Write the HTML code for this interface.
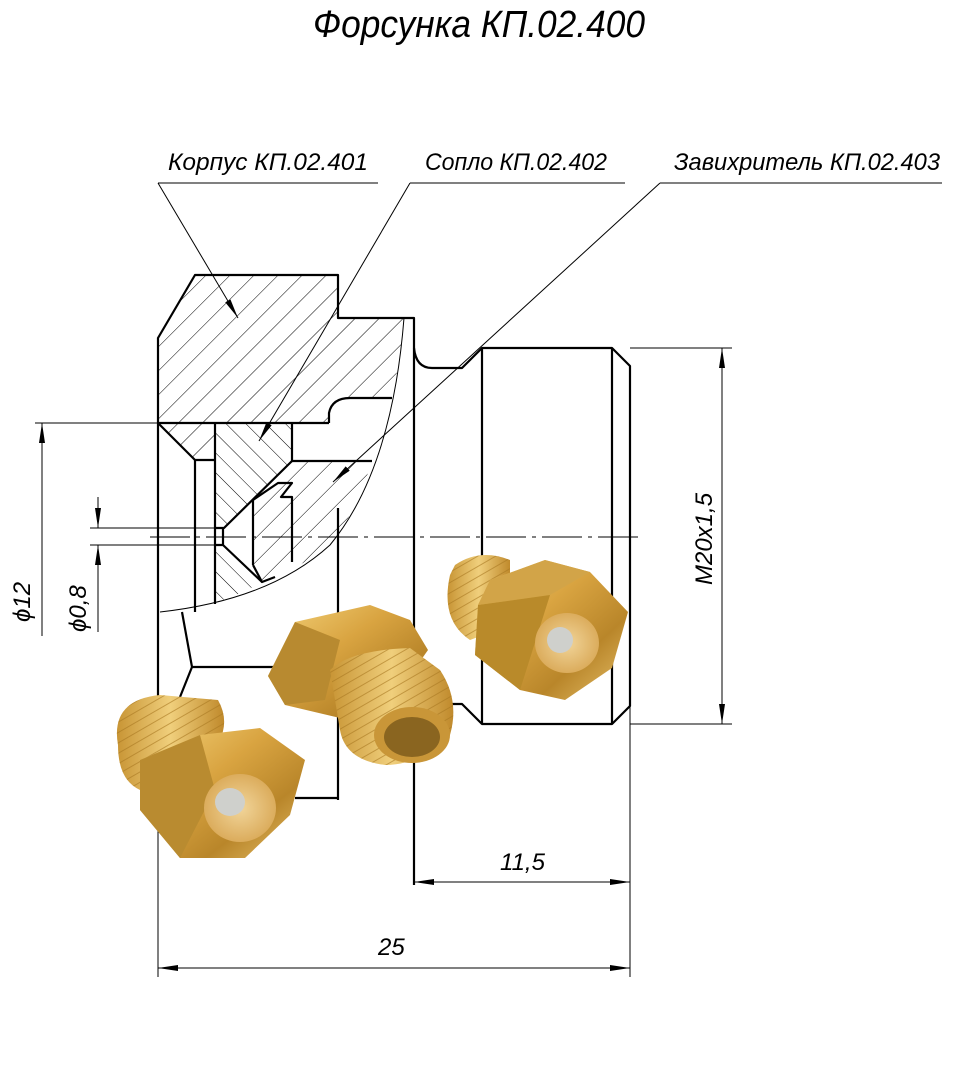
<!DOCTYPE html>
<html><head><meta charset="utf-8"><style>
html,body{margin:0;padding:0;background:#fff;}
svg{display:block;}
text{font-family:"Liberation Sans","DejaVu Sans",sans-serif;font-style:italic;fill:#000;}
</style></head><body>
<svg width="975" height="1065" viewBox="0 0 975 1065" xmlns="http://www.w3.org/2000/svg">
<defs>
<pattern id="h1" patternUnits="userSpaceOnUse" width="17" height="17" patternTransform="rotate(45)">
<line x1="0" y1="0" x2="0" y2="17" stroke="#000" stroke-width="1"/></pattern>
<pattern id="h2" patternUnits="userSpaceOnUse" width="14" height="14" patternTransform="rotate(-45)">
<line x1="0" y1="0" x2="0" y2="14" stroke="#000" stroke-width="1"/></pattern>
<linearGradient id="br" x1="0" y1="0" x2="1" y2="1">
<stop offset="0" stop-color="#f3d27a"/><stop offset="0.4" stop-color="#d9a441"/><stop offset="0.7" stop-color="#b9862a"/><stop offset="1" stop-color="#e7c06a"/></linearGradient>
<linearGradient id="br2" x1="0" y1="0" x2="1" y2="0">
<stop offset="0" stop-color="#c89535"/><stop offset="0.5" stop-color="#f0cf7c"/><stop offset="1" stop-color="#c08a2c"/></linearGradient>
<radialGradient id="face" cx="0.5" cy="0.5" r="0.6">
<stop offset="0" stop-color="#f1d59a"/><stop offset="1" stop-color="#d7a450"/></radialGradient>
<pattern id="thr" patternUnits="userSpaceOnUse" width="9" height="9" patternTransform="rotate(-30)">
<rect width="9" height="9" fill="none"/><line x1="0" y1="0" x2="9" y2="0" stroke="#a87720" stroke-width="2" opacity="0.6"/></pattern>
<marker id="ar" viewBox="0 0 20 6" refX="20" refY="3" markerWidth="20" markerHeight="6" markerUnits="userSpaceOnUse" orient="auto-start-reverse">
<path d="M0,0 L20,3 L0,6 z" fill="#000"/></marker>
</defs>

<text x="313" y="37" font-size="38" textLength="332" lengthAdjust="spacingAndGlyphs">Форсунка КП.02.400</text>

<text x="168" y="170" font-size="24" textLength="200" lengthAdjust="spacingAndGlyphs">Корпус КП.02.401</text>
<line x1="158" y1="183" x2="378" y2="183" stroke="#000"/>
<text x="425" y="170" font-size="24" textLength="182" lengthAdjust="spacingAndGlyphs">Сопло КП.02.402</text>
<line x1="410" y1="183" x2="625" y2="183" stroke="#000"/>
<text x="674" y="170" font-size="24" textLength="266" lengthAdjust="spacingAndGlyphs">Завихритель КП.02.403</text>
<line x1="660" y1="183" x2="942" y2="183" stroke="#000"/>

<path d="M195,275 L338,275 L338,318 L404,318 Q400,360 392,398 L348,398 Q332,400 329,413 L329,423 L215,423 L215,460 L195,460 L158,423 L158,338 Z" fill="url(#h1)"/>
<path d="M292,461 L372,461 Q358,505 338,535 Q310,565 262,582 L253,565 L253,500 L292,461 Z" fill="url(#h1)"/>
<path d="M215,423 L292,423 L292,461 L224,528 L215,528 Z" fill="url(#h2)"/>
<path d="M215,545 L223,545 L262,582 Q240,595 215,602 Z" fill="url(#h2)"/>

<g fill="none" stroke="#000" stroke-width="2.2" stroke-linejoin="round">
<path d="M158,800 L158,338 L195,275 L338,275 L338,318 L414,318 L414,885"/>
<path d="M414,348 Q416,368 432,368 L462,368 L482,348 L612,348 L630,366 L630,706 L612,724 L482,724 L462,704 L432,704 Q416,704 414,724"/>
<line x1="482" y1="348" x2="482" y2="724"/>
<line x1="612" y1="348" x2="612" y2="724"/>
<path d="M158,423 L195,460 L215,460"/>
<line x1="158" y1="423" x2="329" y2="423"/>
<line x1="195" y1="460" x2="195" y2="612"/>
<line x1="215" y1="423" x2="215" y2="604"/>
<path d="M292,423 L292,461 L372,461"/>
<path d="M329,423 L329,413 Q332,398 350,398 L392,398"/>
<path d="M292,461 L224,528 L215,528 M223,528 L223,545 L215,545 M223,545 L262,582"/>
<path d="M253,500 L253,565 M253,500 L278,483 L292,483 L281,497 L292,497 L292,562"/>
<path d="M253,565 L262,582 L275,577"/>
<line x1="338" y1="508" x2="338" y2="800"/>
<path d="M182,612 L192,667 L275,667 M192,667 L180,697"/>
<line x1="295" y1="798" x2="338" y2="798"/>
</g>
<path d="M404,318 Q392,470 330,545 Q270,600 160,612" fill="none" stroke="#000" stroke-width="1"/>

<line x1="150" y1="537" x2="640" y2="537" stroke="#000" stroke-width="1" stroke-dasharray="40,6,4,6"/>

<line x1="158" y1="183" x2="238" y2="318" stroke="#000" stroke-width="1" marker-end="url(#ar)"/>
<line x1="410" y1="183" x2="259" y2="441" stroke="#000" stroke-width="1" marker-end="url(#ar)"/>
<line x1="660" y1="183" x2="333" y2="482" stroke="#000" stroke-width="1" marker-end="url(#ar)"/>

<g stroke="#000" stroke-width="1" fill="none">
<line x1="35" y1="423" x2="158" y2="423"/>
<line x1="42" y1="423" x2="42" y2="636" marker-start="url(#ar)"/>
<line x1="90" y1="528" x2="215" y2="528"/>
<line x1="90" y1="545" x2="215" y2="545"/>
<line x1="98" y1="497" x2="98" y2="528" marker-end="url(#ar)"/>
<line x1="98" y1="632" x2="98" y2="545" marker-end="url(#ar)"/>
<line x1="630" y1="348" x2="732" y2="348"/>
<line x1="630" y1="724" x2="732" y2="724"/>
<line x1="722" y1="348" x2="722" y2="724" marker-start="url(#ar)" marker-end="url(#ar)"/>
<line x1="630" y1="706" x2="630" y2="977"/>
<line x1="158" y1="800" x2="158" y2="977"/>
<line x1="414" y1="882" x2="630" y2="882" marker-start="url(#ar)" marker-end="url(#ar)"/>
<line x1="158" y1="968" x2="630" y2="968" marker-start="url(#ar)" marker-end="url(#ar)"/>
</g>
<text transform="translate(30,622) rotate(-90)" font-size="24">ϕ12</text>
<text transform="translate(86,632) rotate(-90)" font-size="24">ϕ0,8</text>
<text transform="translate(712,585) rotate(-90)" font-size="24">M20x1,5</text>
<text x="500" y="870" font-size="24">11,5</text>
<text x="378" y="955" font-size="24">25</text>

<!-- nozzle 3 -->
<g>
<path d="M450,575 Q440,620 470,640 L510,625 L510,560 Q480,548 455,565 Z" fill="url(#br2)"/>
<path d="M450,575 Q440,620 470,640 L510,625 L510,560 Q480,548 455,565 Z" fill="url(#thr)"/>
<path d="M490,580 L545,560 L590,572 L628,612 L612,668 L565,700 L520,690 L475,655 L478,605 Z" fill="url(#br)"/>
<path d="M490,580 L545,560 L590,572 L550,595 L478,605 Z" fill="#d2a448"/>
<path d="M478,605 L550,595 L520,690 L475,655 Z" fill="#b98a2a"/>
<ellipse cx="567" cy="643" rx="32" ry="30" fill="url(#face)"/>
<ellipse cx="560" cy="640" rx="13" ry="13" fill="#cfd0cc"/>
</g>
<!-- nozzle 2 -->
<g>
<path d="M268,676 L295,622 L370,605 L410,620 L428,650 L400,690 L340,718 L285,705 Z" fill="url(#br)"/>
<path d="M268,676 L295,622 L340,640 L325,700 L285,705 Z" fill="#b88a30"/>
<path d="M330,670 Q350,650 410,648 L440,670 Q460,700 450,735 Q420,765 385,765 Q345,760 340,730 Z" fill="url(#br2)"/>
<path d="M330,670 Q350,650 410,648 L440,670 Q460,700 450,735 Q420,765 385,765 Q345,760 340,730 Z" fill="url(#thr)"/>
<ellipse cx="412" cy="735" rx="38" ry="28" fill="#c99638"/>
<ellipse cx="412" cy="737" rx="28" ry="20" fill="#8a6520"/>
</g>
<!-- nozzle 1 -->
<g>
<path d="M118,745 Q110,700 160,695 L218,700 Q235,730 205,760 L140,790 Q118,780 118,745 Z" fill="url(#br2)"/>
<path d="M118,745 Q110,700 160,695 L218,700 Q235,730 205,760 L140,790 Q118,780 118,745 Z" fill="url(#thr)"/>
<path d="M140,760 L200,735 L260,728 L305,760 L290,815 L245,858 L180,858 L140,810 Z" fill="url(#br)"/>
<path d="M140,760 L200,735 L215,790 L180,858 L140,810 Z" fill="#b98b30"/>
<ellipse cx="240" cy="808" rx="36" ry="34" fill="url(#face)"/>
<ellipse cx="230" cy="802" rx="15" ry="14" fill="#cfd0cc"/>
</g>
</svg>
</body></html>
